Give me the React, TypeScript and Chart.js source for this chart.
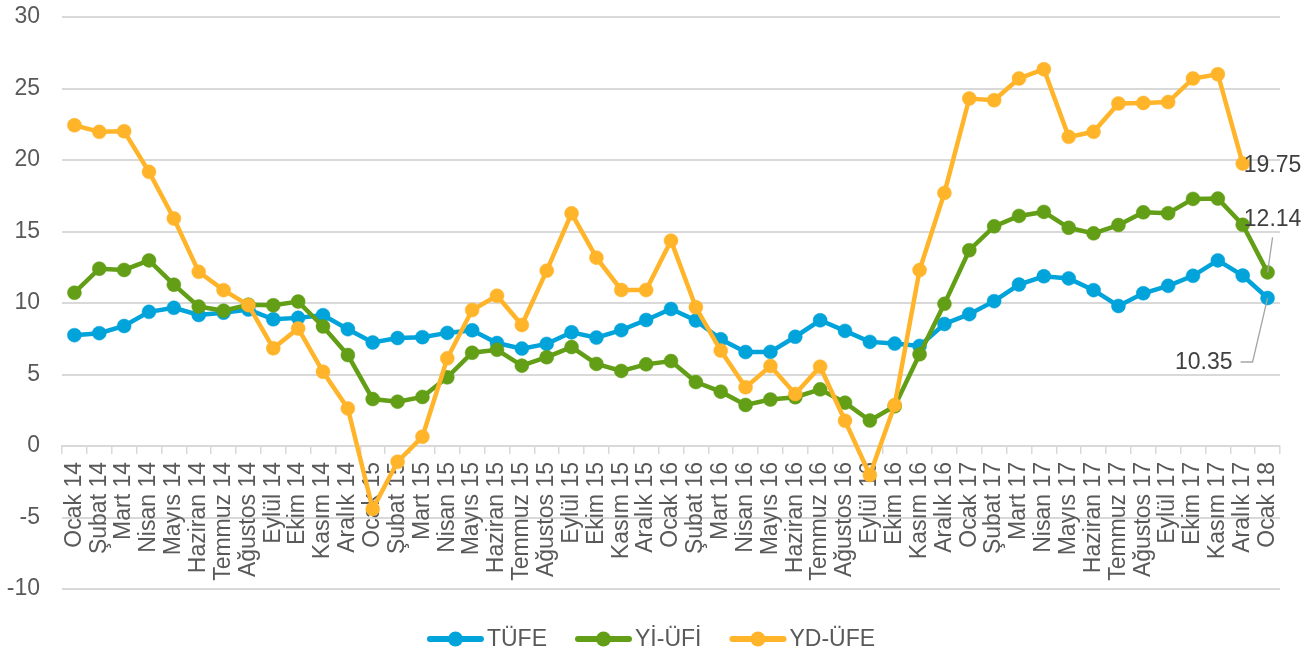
import React, { useEffect, useRef } from "react";
import { Chart, registerables } from "chart.js";

Chart.register(...registerables);

const categories = [
  "Ocak 14", "Şubat 14", "Mart 14", "Nisan 14", "Mayıs 14", "Haziran 14", "Temmuz 14", "Ağustos 14", "Eylül 14", "Ekim 14", "Kasım 14", "Aralık 14",
  "Ocak 15", "Şubat 15", "Mart 15", "Nisan 15", "Mayıs 15", "Haziran 15", "Temmuz 15", "Ağustos 15", "Eylül 15", "Ekim 15", "Kasım 15", "Aralık 15",
  "Ocak 16", "Şubat 16", "Mart 16", "Nisan 16", "Mayıs 16", "Haziran 16", "Temmuz 16", "Ağustos 16", "Eylül 16", "Ekim 16", "Kasım 16", "Aralık 16",
  "Ocak 17", "Şubat 17", "Mart 17", "Nisan 17", "Mayıs 17", "Haziran 17", "Temmuz 17", "Ağustos 17", "Eylül 17", "Ekim 17", "Kasım 17", "Aralık 17",
  "Ocak 18",
];

const tufe = [
  7.75, 7.89, 8.39, 9.38, 9.66, 9.16, 9.32, 9.54, 8.86, 8.96, 9.15, 8.17,
  7.24, 7.55, 7.61, 7.91, 8.09, 7.20, 6.81, 7.14, 7.95, 7.58, 8.10, 8.81,
  9.58, 8.78, 7.46, 6.57, 6.58, 7.64, 8.79, 8.05, 7.28, 7.16, 7.00, 8.53,
  9.22, 10.13, 11.29, 11.87, 11.72, 10.90, 9.79, 10.68, 11.20, 11.90, 12.98, 11.92,
  10.35,
];

const yiUfe = [
  10.72, 12.40, 12.31, 12.98, 11.28, 9.75, 9.46, 9.88, 9.84, 10.10, 8.36, 6.36,
  3.28, 3.10, 3.43, 4.80, 6.52, 6.73, 5.62, 6.21, 6.92, 5.74, 5.25, 5.71,
  5.94, 4.47, 3.80, 2.87, 3.25, 3.41, 3.96, 3.03, 1.78, 2.78, 6.41, 9.94,
  13.69, 15.36, 16.09, 16.37, 15.26, 14.87, 15.45, 16.34, 16.28, 17.28, 17.30, 15.47,
  12.14,
];

const ydUfe = [
  22.43, 21.97, 22.01, 19.17, 15.91, 12.18, 10.90, 9.85, 6.83, 8.22, 5.19, 2.63,
  -4.40, -1.10, 0.65, 6.13, 9.51, 10.51, 8.46, 12.26, 16.27, 13.17, 10.91, 10.91,
  14.36, 9.70, 6.67, 4.10, 5.59, 3.64, 5.55, 1.77, -2.03, 2.87, 12.30, 17.70,
  24.30, 24.18, 25.70, 26.35, 21.62, 21.97, 23.95, 23.99, 24.05, 25.70, 26.00, 19.75,
];

const seriesNames = ["TÜFE", "Yİ-ÜFİ", "YD-ÜFE"];
const seriesColors = ["#00A3DA", "#629E16", "#FFB42A"];

const yMin = -10;
const yMax = 30;
const yStep = 5;

const FONT = "'Liberation Sans', Arial, sans-serif";
const TEXT = "#595959";
const GRID = "#D9D9D9";

// desired plot-area frame (layout only)
const FRAME = { left: 62, top: 17, right: 1280, bottom: 589 };

const labelsPlugin = {
  id: "endLabels",
  afterDatasetsDraw(chart: any) {
    const ctx = chart.ctx;
    ctx.save();
    ctx.font = `23px ${FONT}`;
    ctx.fillStyle = "#404040";
    ctx.strokeStyle = "#A6A6A6";
    ctx.lineWidth = 1.3;

    const oMeta = chart.getDatasetMeta(2);
    const oi = ydUfe.length - 1;
    const op = oMeta.data[oi];
    ctx.textAlign = "left";
    ctx.textBaseline = "middle";
    ctx.fillText(ydUfe[oi].toFixed(2), op.x + 1, op.y + 2);

    const gMeta = chart.getDatasetMeta(1);
    const gi = yiUfe.length - 1;
    const gp = gMeta.data[gi];
    ctx.beginPath();
    ctx.moveTo(gp.x + 5, gp.y - 35);
    ctx.lineTo(gp.x, gp.y);
    ctx.stroke();
    ctx.textAlign = "center";
    ctx.fillText(yiUfe[gi].toFixed(2), gp.x + 5, gp.y - 53);

    const bMeta = chart.getDatasetMeta(0);
    const bi = tufe.length - 1;
    const bp = bMeta.data[bi];
    ctx.beginPath();
    ctx.moveTo(bp.x - 27, bp.y + 64);
    ctx.lineTo(bp.x - 15, bp.y + 64);
    ctx.lineTo(bp.x, bp.y);
    ctx.stroke();
    ctx.textAlign = "right";
    ctx.fillText(tufe[bi].toFixed(2), bp.x - 35, bp.y + 65);
    ctx.restore();
  },
};

const legendPlugin = {
  id: "customLegend",
  afterDraw(chart: any) {
    const ctx = chart.ctx;
    ctx.save();
    ctx.font = `23px ${FONT}`;
    const markW = 57;
    const gapText = 3;
    const gapItem = 28;
    const widths = seriesNames.map((n) => markW + gapText + ctx.measureText(n).width);
    const total = widths.reduce((a, b) => a + b, 0) + gapItem * (seriesNames.length - 1);
    let x = chart.width / 2 - 7 - total / 2;
    const y = 639;
    seriesNames.forEach((name, i) => {
      ctx.strokeStyle = seriesColors[i];
      ctx.lineWidth = 6;
      ctx.lineCap = "round";
      ctx.beginPath();
      ctx.moveTo(x + 3, y);
      ctx.lineTo(x + markW - 3, y);
      ctx.stroke();
      ctx.fillStyle = seriesColors[i];
      ctx.beginPath();
      ctx.arc(x + markW / 2, y, 7.5, 0, Math.PI * 2);
      ctx.fill();
      ctx.fillStyle = TEXT;
      ctx.textAlign = "left";
      ctx.textBaseline = "middle";
      ctx.fillText(name, x + markW + gapText, y + 1);
      x += widths[i] + gapItem;
    });
    ctx.restore();
  },
};

export default function App() {
  const ref = useRef<HTMLCanvasElement | null>(null);

  useEffect(() => {
    if (!ref.current) return;
    const seriesData = [tufe, yiUfe, ydUfe];
    const orders = [2, 1, 0];
    const pad = { left: 0, right: 36, top: 17, bottom: 66 };
    const chart = new Chart(ref.current, {
      type: "line",
      data: {
        labels: categories,
        datasets: seriesData.map((d, i) => ({
          label: seriesNames[i],
          data: d,
          borderColor: seriesColors[i],
          backgroundColor: seriesColors[i],
          pointBackgroundColor: seriesColors[i],
          pointBorderColor: seriesColors[i],
          borderWidth: 4.5,
          pointRadius: 7,
          pointBorderWidth: 0.5,
          tension: 0,
          order: orders[i],
        })),
      },
      options: {
        responsive: false,
        animation: false,
        layout: { padding: pad },
        plugins: {
          legend: { display: false },
          tooltip: { enabled: false },
        },
        scales: {
          x: {
            type: "category",
            position: { y: 0 } as any,
            offset: true,
            grid: {
              offset: true,
              drawOnChartArea: false,
              drawTicks: true,
              tickLength: 7,
              color: GRID,
              lineWidth: 1.5,
            },
            border: { display: true, color: GRID, width: 2 },
            ticks: {
              autoSkip: false,
              minRotation: 90,
              maxRotation: 90,
              padding: 9,
              color: TEXT,
              font: { family: FONT, size: 23 },
            },
          },
          y: {
            min: yMin,
            max: yMax,
            border: { display: false },
            grid: {
              color: GRID,
              lineWidth: 2,
              drawTicks: true,
              tickLength: 22,
              tickColor: "rgba(0,0,0,0)",
            },
            ticks: {
              stepSize: yStep,
              padding: 0,
              color: TEXT,
              font: { family: FONT, size: 23 },
            },
          },
        },
      },
      plugins: [labelsPlugin, legendPlugin],
    });
    // nudge layout padding so the plot area sits on the intended frame
    for (let k = 0; k < 4; k++) {
      const ca = chart.chartArea;
      const dl = FRAME.left - ca.left;
      const dt = FRAME.top - ca.top;
      const dr = ca.right - FRAME.right;
      const db = ca.bottom - FRAME.bottom;
      if (Math.abs(dl) + Math.abs(dt) + Math.abs(dr) + Math.abs(db) < 0.5) break;
      pad.left += dl;
      pad.top += dt;
      pad.right += dr;
      pad.bottom += db;
      (chart.options as any).layout.padding = { ...pad };
      chart.update();
    }
    return () => chart.destroy();
  }, []);

  return (
    <div style={{ position: "absolute", left: 0, top: 0, width: 1316, height: 655 }}>
      <canvas ref={ref} width={1316} height={655} style={{ display: "block" }} />
    </div>
  );
}
